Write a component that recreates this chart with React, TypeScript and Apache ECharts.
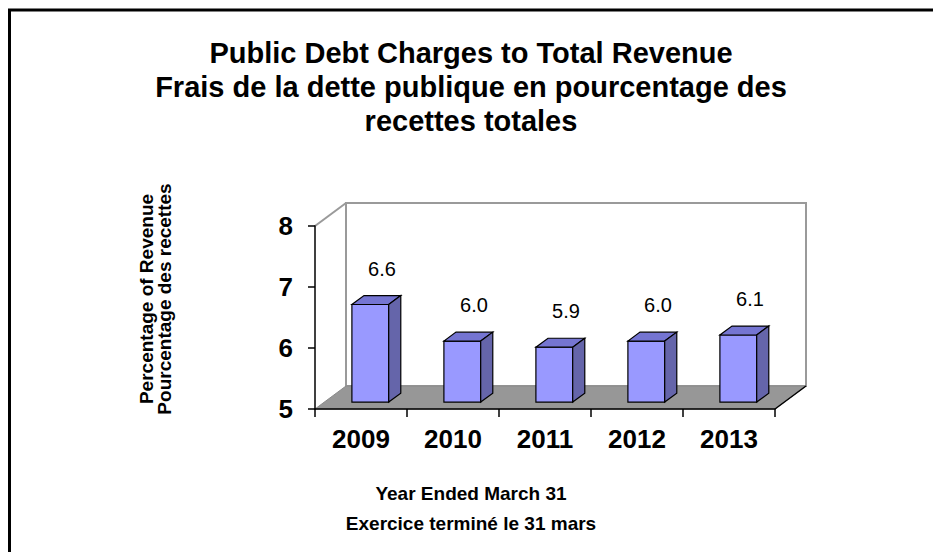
import React, { useEffect, useRef } from 'react';
import * as echarts from 'echarts';

const years = ['2009', '2010', '2011', '2012', '2013'];
const values = [6.6, 6.0, 5.9, 6.0, 6.1];
const yMin = 5;
const yMax = 8;
const yInterval = 1;
const titleLines = [
  'Public Debt Charges to Total Revenue',
  'Frais de la dette publique en pourcentage des',
  'recettes totales',
];
const xNameLines = ['Year Ended March 31', 'Exercice terminé le 31 mars'];
const yNameLines = ['Percentage of Revenue', 'Pourcentage des recettes'];

export default function App() {
  const ref = useRef<HTMLDivElement>(null);
  useEffect(() => {
    const chart = echarts.init(ref.current!, null, { renderer: 'svg' });
    const DX = 31;
    const DY = -23;
    const font = 'Liberation Sans';

    const option: any = {
      animation: false,
      backgroundColor: '#fff',
      grid: { left: 315, top: 226, width: 460, height: 183 },
      xAxis: {
        type: 'category',
        data: years,
        z: 5,
        axisLine: { show: true, lineStyle: { color: '#000', width: 1.5 } },
        axisTick: { show: true, length: 8, interval: 0, lineStyle: { color: '#000', width: 1.5 } },
        axisLabel: {
          interval: 0,
          margin: 17,
          color: '#000',
          fontFamily: font,
          fontWeight: 'bold',
          fontSize: 26,
        },
        splitLine: { show: false },
      },
      yAxis: {
        type: 'value',
        min: yMin,
        max: yMax,
        interval: yInterval,
        z: 5,
        axisLine: { show: true, lineStyle: { color: '#000', width: 1.5 } },
        axisTick: { show: true, length: 7, lineStyle: { color: '#000', width: 1.5 } },
        axisLabel: {
          margin: 22,
          color: '#000',
          fontFamily: font,
          fontWeight: 'bold',
          fontSize: 26,
        },
        splitLine: { show: false },
      },
      graphic: [
        {
          type: 'rect',
          z: 100,
          silent: true,
          shape: { x: 9.5, y: 10, width: 1000, height: 1000 },
          style: { fill: 'none', stroke: '#000', lineWidth: 3 },
        },
        {
          type: 'text',
          x: 471,
          y: 87,
          style: {
            text: titleLines.join('\n'),
            fill: '#000',
            font: `bold 29px "${font}"`,
            lineHeight: 34,
            align: 'center',
            verticalAlign: 'middle',
            textAlign: 'center',
            textVerticalAlign: 'middle',
          },
        },
        {
          type: 'text',
          x: 471,
          y: 508,
          style: {
            text: xNameLines.join('\n'),
            fill: '#000',
            font: `bold 19px "${font}"`,
            lineHeight: 30,
            align: 'center',
            verticalAlign: 'middle',
            textAlign: 'center',
            textVerticalAlign: 'middle',
          },
        },
        {
          type: 'text',
          x: 155,
          y: 299,
          rotation: Math.PI / 2,
          style: {
            text: yNameLines.join('\n'),
            fill: '#000',
            font: `bold 19px "${font}"`,
            lineHeight: 18,
            align: 'center',
            verticalAlign: 'middle',
            textAlign: 'center',
            textVerticalAlign: 'middle',
          },
        },
      ],
      series: [
        {
          type: 'custom',
          z: 1,
          silent: true,
          clip: false,
          data: [[0, yMin]],
          renderItem: (params: any) => {
            const cs = params.coordSys;
            const x = cs.x, y = cs.y, w = cs.width, h = cs.height;
            const b = y + h;
            return {
              type: 'group',
              children: [
                {
                  type: 'polygon',
                  shape: {
                    points: [
                      [x + DX, y + DY],
                      [x + w + DX, y + DY],
                      [x + w + DX, b + DY],
                      [x + DX, b + DY],
                    ],
                  },
                  style: { fill: '#fff', stroke: '#9a9a9a', lineWidth: 2 },
                },
                {
                  type: 'line',
                  shape: { x1: x, y1: y, x2: x + DX, y2: y + DY },
                  style: { stroke: '#9a9a9a', lineWidth: 2 },
                },
                {
                  type: 'polygon',
                  shape: {
                    points: [
                      [x, b],
                      [x + w, b],
                      [x + w + DX, b + DY],
                      [x + DX, b + DY],
                    ],
                  },
                  style: { fill: '#979797', stroke: '#8a8a8a', lineWidth: 1 },
                },
                {
                  type: 'line',
                  shape: { x1: x + w, y1: b, x2: x + w + DX, y2: b + DY },
                  style: { stroke: '#000', lineWidth: 1.5 },
                },
              ],
            };
          },
        },
        {
          type: 'custom',
          z: 3,
          clip: false,
          data: values.map((v, i) => [i, v]),
          renderItem: (params: any, api: any) => {
            const i = api.value(0);
            const v = api.value(1);
            const band = api.size([1, 0])[0];
            const base = api.coord([i, yMin]);
            const topPt = api.coord([i, v]);
            const bw = band * 0.4;
            const px = 0.3 * DX, py = 0.3 * DY;
            const bx = 0.39 * DX, by = 0.39 * DY;
            const x0 = base[0] + px - bw / 2;
            const x1 = x0 + bw;
            const yb = base[1] + py;
            const yt = topPt[1] + py;
            const stroke = { stroke: '#000', lineWidth: 1.2 };
            return {
              type: 'group',
              children: [
                {
                  type: 'polygon',
                  shape: { points: [[x0, yb], [x1, yb], [x1, yt], [x0, yt]] },
                  style: { fill: '#9999FF', ...stroke },
                },
                {
                  type: 'polygon',
                  shape: { points: [[x0, yt], [x1, yt], [x1 + bx, yt + by], [x0 + bx, yt + by]] },
                  style: { fill: '#7575D2', ...stroke },
                },
                {
                  type: 'polygon',
                  shape: { points: [[x1, yt], [x1 + bx, yt + by], [x1 + bx, yb + by], [x1, yb]] },
                  style: { fill: '#6565AA', ...stroke },
                },
                {
                  type: 'text',
                  x: base[0] + 21,
                  y: yt - 36,
                  style: {
                    text: v.toFixed(1),
                    fill: '#000',
                    font: `20px "${font}"`,
                    align: 'center',
                    verticalAlign: 'middle',
                    textAlign: 'center',
                    textVerticalAlign: 'middle',
                  },
                },
              ],
            };
          },
        },
      ],
    };
    chart.setOption(option);
    return () => chart.dispose();
  }, []);
  return (
    <div
      ref={ref}
      style={{ position: 'absolute', left: 0, top: 0, width: 933, height: 552, background: '#fff' }}
    />
  );
}
